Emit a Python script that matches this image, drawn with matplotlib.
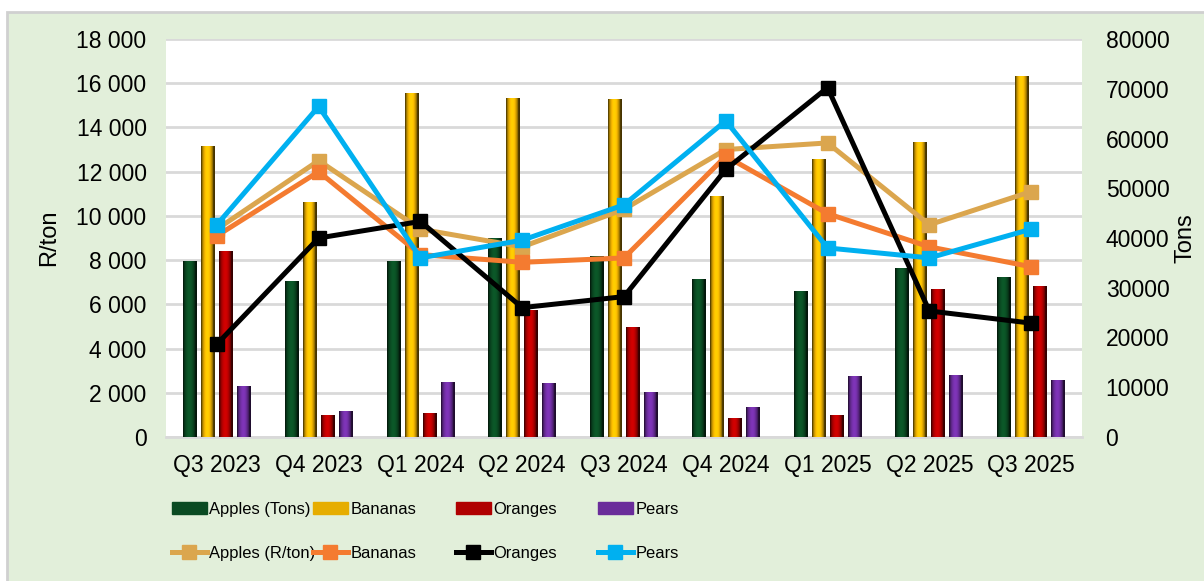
import numpy as np
import matplotlib
matplotlib.use("Agg")
import matplotlib.pyplot as plt
import matplotlib.colors as mcolors
from matplotlib.patches import Rectangle, Patch
from matplotlib.lines import Line2D
from matplotlib.ticker import FuncFormatter

quarters = ["Q3 2023", "Q4 2023", "Q1 2024", "Q2 2024", "Q3 2024",
            "Q4 2024", "Q1 2025", "Q2 2025", "Q3 2025"]

# volumes (tons) - right axis
apples_t = [35200, 31200, 35200, 40000, 36200, 31600, 29300, 33800, 32000]
bananas_t = [58300, 47200, 69100, 68100, 67900, 48400, 55700, 59100, 72400]
oranges_t = [37200, 4400, 4800, 25500, 22100, 3800, 4400, 29700, 30200]
pears_t = [10100, 5200, 10900, 10700, 9000, 6000, 12100, 12300, 11300]

# prices (R/ton) - left axis
apples_r = [9400, 12500, 9400, 8600, 10300, 13000, 13300, 9600, 11100]
bananas_r = [9100, 12000, 8250, 7900, 8100, 12700, 10100, 8600, 7700]
oranges_r = [4200, 9000, 9750, 5850, 6350, 12100, 15800, 5700, 5150]
pears_r = [9600, 14950, 8100, 8900, 10500, 14300, 8550, 8100, 9400]

bar_colors = ["#0a4a22", "#e6ad00", "#b00000", "#6a2c9a"]
line_colors = ["#dba64e", "#f47b30", "#000000", "#00b0f0"]

tick_font = {"family": ["Liberation Sans", "DejaVu Sans"], "size": 16.5}
leg_font = {"family": ["Liberation Sans", "DejaVu Sans"], "size": 11.9}

W, H = 1204, 581
fig = plt.figure(figsize=(W / 100, H / 100), dpi=100, facecolor="white")
fig.patches.append(Rectangle((7 / W, -0.01), 1.02, 1 - 12 / H + 0.01, transform=fig.transFigure,
                             facecolor="#e2efda", edgecolor="#d0d0d0", linewidth=2, zorder=-5))

ax = fig.add_axes([166 / W, 1 - 437 / H, (1082 - 166) / W, (437 - 39) / H])
ax.set_facecolor("white")
ax2 = ax.twinx()

x = np.arange(len(quarters))
step = 0.177
bw = 0.135


def shaded_bar(a, x0, w, h, color):
    c = np.array(mcolors.to_rgb(color))
    t = np.linspace(0, 1, 24)
    prof = 0.3 + 0.9 * np.sin(np.pi * np.clip(t * 1.1, 0, 1)) ** 0.7
    img = np.clip(c[None, None, :] * prof[None, :, None], 0, 1)
    a.imshow(img, extent=(x0, x0 + w, 0, h), aspect="auto", zorder=3,
             interpolation="bilinear")


tons = [apples_t, bananas_t, oranges_t, pears_t]
for i, (vals, col) in enumerate(zip(tons, bar_colors)):
    for xi, v in zip(x, vals):
        shaded_bar(ax, xi + (i - 1.5) * step - bw / 2, bw, v, col)

# grid drawn on the bar axis so it sits behind the bars
for g in range(0, 18001, 2000):
    ax.axhline(g * 80000 / 18000, color="#d9d9d9", lw=2, zorder=1)

ax.set_xlim(-0.5, len(quarters) - 0.5)
ax.set_ylim(0, 80000)
ax2.set_ylim(0, 18000)

prices = [apples_r, bananas_r, oranges_r, pears_r]
for vals, col in zip(prices, line_colors):
    ax2.plot(x, vals, color=col, lw=3.6, marker="s", markersize=10, zorder=5)

# left axis = R/ton (lines), right axis = tons (bars)
ax.yaxis.tick_right()
ax.yaxis.set_label_position("right")
ax2.yaxis.tick_left()
ax2.yaxis.set_label_position("left")

ax.set_yticks(range(0, 80001, 10000))
ax2.set_yticks(range(0, 18001, 2000))
ax2.yaxis.set_major_formatter(FuncFormatter(lambda v, p: f"{int(v):,}".replace(",", " ")))
ax.set_xticks(x)
ax.set_xticklabels(quarters)

for a in (ax, ax2):
    for s in a.spines.values():
        s.set_visible(False)
ax.spines["bottom"].set_visible(True)
ax.spines["bottom"].set_color("#d9d9d9")
ax.spines["bottom"].set_linewidth(2)

ax.tick_params(axis="y", length=0, pad=17)
ax2.tick_params(axis="y", length=0, pad=14)
ax.tick_params(axis="x", length=0, pad=12)
for lab in ax.get_yticklabels() + ax2.get_yticklabels() + ax.get_xticklabels():
    lab.set_fontfamily(tick_font["family"])
    lab.set_fontsize(tick_font["size"])

ax2.set_ylabel("R/ton", fontsize=17, family=tick_font["family"])
ax.set_ylabel("Tons", fontsize=17, family=tick_font["family"])
ax2.yaxis.set_label_coords((60 - 166) / 916, 0.5)
ax.yaxis.set_label_coords((1175 - 166) / 916, 0.5)

# legend: four columns of equal width, bars on top row, lines below
bar_labels = ["Apples (Tons)", "Bananas", "Oranges", "Pears"]
line_labels = ["Apples (R/ton)", "Bananas", "Oranges", "Pears"]
col_x = [172, 313, 456, 598]
for i in range(4):
    hb = Patch(facecolor=bar_colors[i], edgecolor=bar_colors[i])
    hl = Line2D([], [], color=line_colors[i], lw=3.6, marker="s", markersize=10)
    fig.legend([hb, hl], [bar_labels[i], line_labels[i]], loc="upper left",
               bbox_to_anchor=(col_x[i] / W, 1 - 502 / H), frameon=False,
               prop=leg_font, handlelength=2.1, handletextpad=0.15,
               borderpad=0, borderaxespad=0, labelspacing=1.75, numpoints=1)

fig.savefig("out.png", dpi=100, facecolor=fig.get_facecolor())
